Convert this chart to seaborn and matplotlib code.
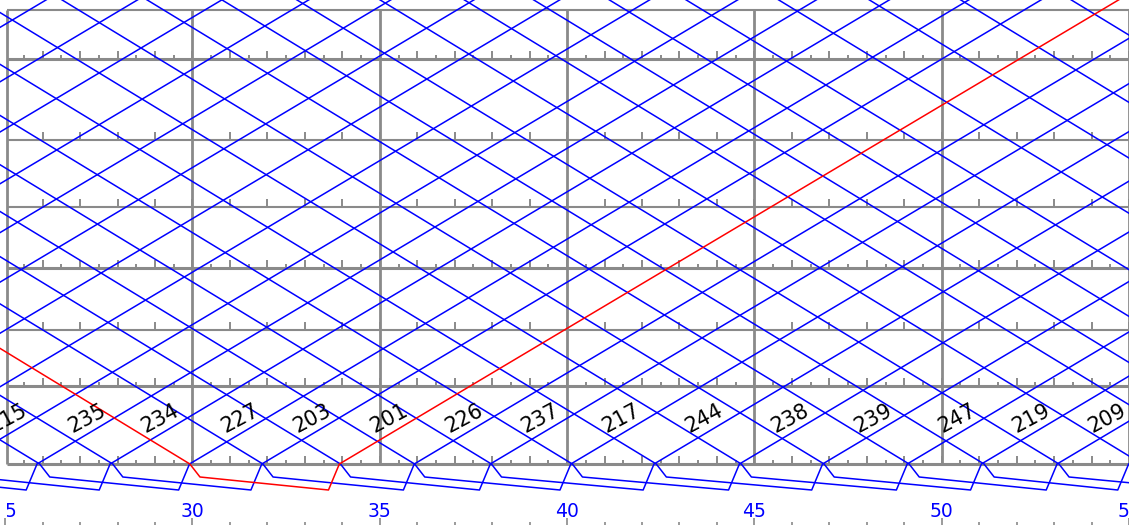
import numpy as np
import pandas as pd
import matplotlib
matplotlib.use("Agg")
import matplotlib.pyplot as plt
from matplotlib.patches import Rectangle
import seaborn as sns

sns.set_theme(style="white")
plt.rcParams["font.family"] = ["DejaVu Sans"]

# ---- line geometry -------------------------------------------------------
# station positions along the section (distance units from lower terminal)
station_pos = [0.00, 0.78, 1.34, 1.96, 2.57, 3.24, 4.05]
station_major = [True, True, False, True, False, False, True]
section_top = 4.54          # upper edge of the drawn section

# running time over the drawn section, minutes
run_up = 20.35
run_down = 19.9

# ---- timetable -----------------------------------------------------------
# up departures from the lower terminal (minutes) and their train numbers
dep_times = [5.29, 7.73, 9.98, 12.30, 14.49, 16.71, 19.00, 21.40,
             23.75, 25.85, 27.80, 29.92, 31.85, 33.92, 35.92, 37.95, 40.10,
             42.32, 44.60, 46.82, 49.08, 51.06, 53.08, 54.99]
dep_trains = [None] * 8 + ["215", "235", "234", "227", "203", "201", "226",
                           "237", "217", "244", "238", "239", "247", "219",
                           "209", None]
# down arrivals at the lower terminal (minutes)
arr_times = [21.95, 23.90, 25.92, 27.87, 29.93, 31.88, 33.95, 35.93, 37.98,
             40.14, 42.38, 44.65, 46.86, 49.13, 51.13, 53.13, 55.35, 57.60,
             59.45, 61.47, 63.52, 65.99, 68.41, 70.85, 73.80]

highlight_train = "201"

# terminal loop drawn below the lower station
loop_drop, loop_floor = -0.13, -0.26
loop_in, loop_out = 0.27, 0.29

BLUE, RED, GRID = "#0000ff", "#ff0000", "#8a8a8a"

# ---- build train paths ---------------------------------------------------
ext = 5.2                                   # run beyond the drawn section
t_up_ext = run_up * ext / section_top
t_dn_ext = run_down * ext / section_top

rows = []
used_dep = set()
for k, a in enumerate(arr_times):
    later = [i for i, d in enumerate(dep_times) if d > a]
    pts = [(a - t_dn_ext, ext), (a, 0.0), (a + loop_in, loop_drop)]
    kind = "normal"
    if len(later) >= 2:
        i = later[1]
        d = dep_times[i]
        used_dep.add(i)
        pts += [(d - loop_out, loop_floor), (d, 0.0), (d + t_up_ext, ext)]
        if dep_trains[i] == highlight_train:
            kind = "hl"
    else:
        pts += [(a + 4.2 - loop_out, loop_floor)]
    for j, (t, p) in enumerate(pts):
        rows.append(dict(trip=f"a{k}", t=t, pos=p, order=j, kind=kind))

for i, d in enumerate(dep_times):
    if i in used_dep:
        continue
    pts = [(d - 2.2, loop_drop - 0.06), (d - loop_out, loop_floor),
           (d, 0.0), (d + t_up_ext, ext)]
    for j, (t, p) in enumerate(pts):
        rows.append(dict(trip=f"d{i}", t=t, pos=p, order=j, kind="normal"))

paths = pd.DataFrame(rows)

# ---- figure --------------------------------------------------------------
fig = plt.figure(figsize=(11.29, 5.25), dpi=100)
ax = fig.add_axes([0, 0, 1, 1])
px_per_min = 37.5
x0 = 30 - 192.7 / px_per_min
x1 = x0 + 1129 / px_per_min
ax.set_xlim(x0, x1)
ax.set_ylim(-0.61, 4.64)
for s in ax.spines.values():
    s.set_visible(False)

left_edge = 25.05
# texts are cut at the left border of the diagram
text_clip = Rectangle((left_edge, -5), 100, 20, transform=ax.transData)

# station lines and their minute marks
for pos, major in zip(station_pos, station_major):
    ax.hlines(pos, left_edge, x1 + 1, color=GRID, lw=2.2 if major else 1.5,
              zorder=1)
    mins = np.arange(26, 56)
    ax.vlines(mins, pos, pos + 0.08, color=GRID, lw=1.4, zorder=1)
    if major:
        halves = np.arange(25.5, 55.5, 1.0)
        ax.vlines(halves, pos, pos + 0.04, color=GRID, lw=1.4, zorder=1)
ax.hlines(section_top, left_edge, x1 + 1, color=GRID, lw=1.5, zorder=1)

# five-minute grid and left border
ax.vlines([left_edge], 0, section_top, color=GRID, lw=2.0, zorder=1)
ax.vlines(np.arange(30, 56, 5), 0, section_top, color=GRID, lw=2.0, zorder=1)

# train paths
sns.lineplot(data=paths, x="t", y="pos", units="trip", estimator=None,
             sort=False, hue="kind", palette={"normal": BLUE, "hl": RED},
             hue_order=["normal", "hl"], legend=False, lw=1.1, ax=ax,
             zorder=3)

# train numbers along the up runs
for d, num in zip(dep_times, dep_trains):
    if num is None:
        continue
    t = ax.text(d + 0.95, 0.31, num, rotation=28, rotation_mode="anchor",
                ha="left", va="baseline", fontsize=15, color="black",
                zorder=4)
    t.set_clip_path(text_clip)

# time axis
ax.set_xticks(np.arange(25, 60, 5))
ax.set_xticks(np.arange(25, 56, 1), minor=True)
ax.set_xticklabels([str(v) for v in range(25, 60, 5)])
ax.tick_params(axis="x", which="major", direction="in", length=5, width=1.2,
               color=GRID, labelcolor=BLUE, labelsize=13.5, pad=-16.5,
               bottom=True)
ax.tick_params(axis="x", which="minor", direction="in", length=2.2,
               width=1.2, color=GRID, bottom=True)
for lab in ax.get_xticklabels():
    lab.set_clip_path(text_clip)
ax.set_yticks([])
ax.set_xlabel("")
ax.set_ylabel("")

fig.savefig("out.png", dpi=100)
